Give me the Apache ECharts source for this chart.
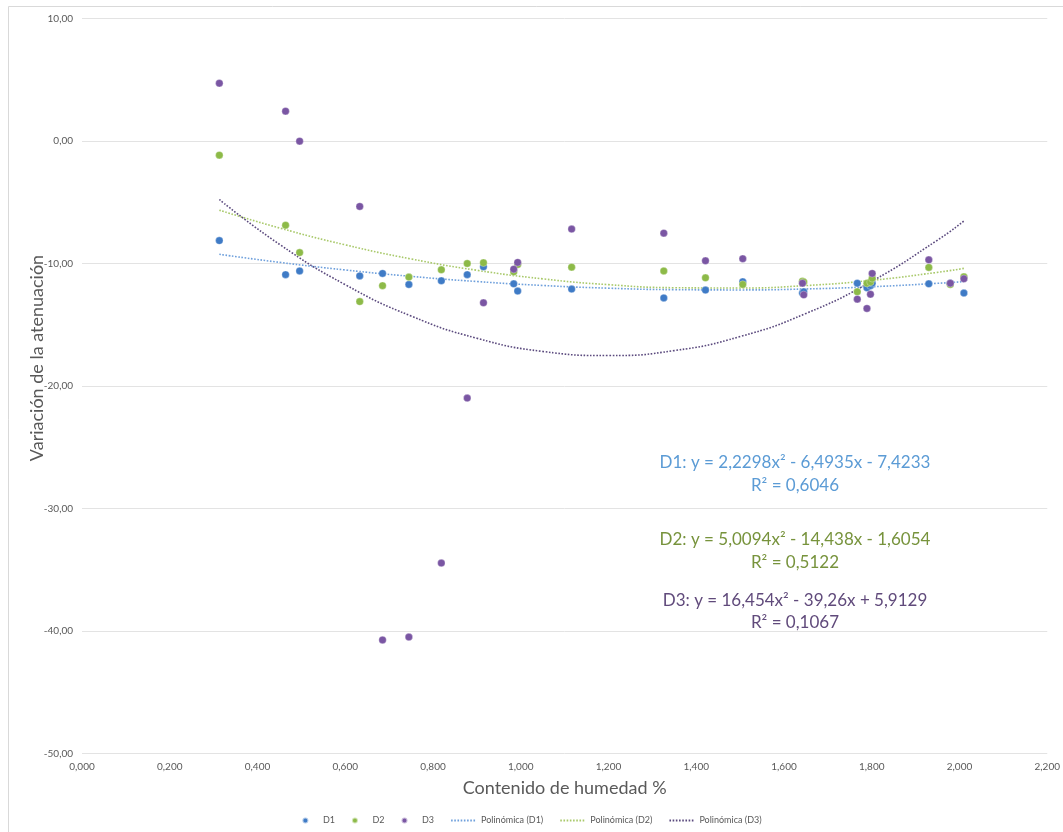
<!DOCTYPE html>
<html>
<head>
<meta charset="utf-8">
<script src="https://cdn.jsdelivr.net/npm/echarts@6/dist/echarts.min.js"></script>
<style>
html,body{margin:0;padding:0;background:#fff;}
#chart{width:1063px;height:832px;}
</style>
</head>
<body>
<div id="chart"></div>
<script>
// Contenido de humedad % (x)
var humedad = [0.313,0.464,0.496,0.633,0.685,0.745,0.819,0.878,0.915,0.984,0.993,1.116,1.326,1.421,1.506,1.642,1.645,1.767,1.789,1.797,1.801,1.930,1.979,2.010];
// Variación de la atenuación
var d1 = [-8.12,-10.90,-10.60,-11.00,-10.80,-11.70,-11.40,-10.90,-10.26,-11.65,-12.24,-12.08,-12.80,-12.16,-11.48,-12.40,-12.30,-11.60,-11.97,-11.80,-11.60,-11.65,-11.60,-12.40];
var d2 = [-1.14,-6.86,-9.10,-13.10,-11.80,-11.10,-10.50,-9.99,-9.93,-10.67,-10.07,-10.29,-10.60,-11.16,-11.70,-11.43,-11.50,-12.30,-11.60,-11.50,-11.20,-10.31,-11.70,-11.08];
var d3 = [4.73,2.45,0.00,-5.33,-40.73,-40.49,-34.45,-20.98,-13.20,-10.45,-9.90,-7.18,-7.51,-9.77,-9.60,-11.60,-12.55,-12.90,-13.66,-12.50,-10.80,-9.69,-11.60,-11.24];

// Trendline points (Polinómica)
var trendX  = [0.313,0.45,0.6,0.75,0.9,1.05,1.2,1.35,1.5,1.65,1.8,1.95,2.01];
var trendD1 = [-9.237,-9.894,-10.517,-11.039,-11.461,-11.783,-12.005,-12.126,-12.147,-12.067,-11.887,-11.607,-11.467];
var trendD2 = [-5.634,-7.088,-8.465,-9.616,-10.542,-11.242,-11.718,-11.967,-11.991,-11.790,-11.363,-10.711,-10.387];
var trendD3 = [-4.763,-8.422,-11.720,-14.277,-16.093,-17.170,-17.505,-17.101,-15.956,-14.070,-11.444,-8.078,-6.524];

var eqTexts = [
  ['D1: y = 2,2298x² - 6,4935x - 7,4233', 'R² = 0,6046'],
  ['D2: y = 5,0094x² - 14,438x - 1,6054', 'R² = 0,5122'],
  ['D3: y = 16,454x² - 39,26x + 5,9129', 'R² = 0,1067']
];

function pairs(xs, ys){ return xs.map(function(x,i){ return [x, ys[i]]; }); }

var FONT = 'Lato, "Open Sans", sans-serif';
var cMark = ['#3f7bc6', '#8dba48', '#7a56a3'];
var cTrend = ['#6fa0dc', '#a9c96b', '#5b4a7e'];
var cEq = ['#5b9bd5', '#77933c', '#604a7b'];

var chart = echarts.init(document.getElementById('chart'), null, {renderer:'canvas'});

function scatterSeries(name, ys, color){
  return {
    name: name, type: 'scatter', data: pairs(humedad, ys),
    symbol: 'circle', symbolSize: 7.5,
    itemStyle: {color: color, opacity: 1, borderColor: 'rgba(255,255,255,0.6)', borderWidth: 0.5},
    z: 3
  };
}
function trendSeries(name, ys, color){
  return {
    name: name, type: 'line', data: pairs(trendX, ys), smooth: true,
    symbol: 'none', showSymbol: false,
    lineStyle: {color: color, width: 1.6, type: [1.6, 1.6]},
    itemStyle: {color: color},
    z: 2, silent: true
  };
}

var graphics = [
  {type:'rect', shape:{x:8.5, y:6.5, width:1060, height:830}, style:{fill:'none', stroke:'#d9d9d9', lineWidth:1}, silent:true},
  {type:'text', x:37, y:358, rotation:Math.PI/2, style:{text:'Variación de la atenuación', fill:'#595959', font:'18px ' + FONT, textAlign:'center', textVerticalAlign:'middle'}}
];
var eqY = [[463,486],[540,563],[601,623]];
eqTexts.forEach(function(t, i){
  graphics.push({type:'text', x:795, y:eqY[i][0], style:{text:t[0], fill:cEq[i], font:'17px ' + FONT, textAlign:'center', textVerticalAlign:'middle'}});
  graphics.push({type:'text', x:795, y:eqY[i][1], style:{text:t[1], fill:cEq[i], font:'17px ' + FONT, textAlign:'center', textVerticalAlign:'middle'}});
});

var noSym = {opacity: 0};

chart.setOption({
  animation: false,
  backgroundColor: '#fff',
  grid: {left: 82, right: 13, top: 18.7, bottom: 78.5, containLabel: false},
  xAxis: {
    type: 'value', min: 0, max: 2.2, interval: 0.2,
    name: 'Contenido de humedad %', nameLocation: 'middle', nameGap: 26,
    nameTextStyle: {color:'#595959', fontSize:18, fontFamily: FONT},
    axisLine: {show: false}, axisTick: {show: false},
    splitLine: {show: false},
    axisLabel: {color:'#595959', fontSize:10, fontFamily: FONT, margin: 8,
      formatter: function(v){ return v.toFixed(3).replace('.', ','); }}
  },
  yAxis: {
    type: 'value', min: -50, max: 10, interval: 10,
    axisLine: {show: false}, axisTick: {show: false},
    splitLine: {show: true, lineStyle: {color:'#e3e3e3', width: 1}},
    axisLabel: {color:'#595959', fontSize:10, fontFamily: FONT, margin: 9,
      formatter: function(v){ return v.toFixed(2).replace('.', ','); }}
  },
  legend: {
    bottom: 2, left: 'center', itemGap: 16, itemWidth: 25, itemHeight: 6,
    textStyle: {color:'#595959', fontSize: 9, fontFamily: FONT},
    data: [
      {name:'D1', icon:'circle'}, {name:'D2', icon:'circle'}, {name:'D3', icon:'circle'},
      {name:'Polinómica (D1)', itemStyle: noSym}, {name:'Polinómica (D2)', itemStyle: noSym}, {name:'Polinómica (D3)', itemStyle: noSym}
    ]
  },
  graphic: graphics,
  series: [
    scatterSeries('D1', d1, cMark[0]),
    scatterSeries('D2', d2, cMark[1]),
    scatterSeries('D3', d3, cMark[2]),
    trendSeries('Polinómica (D1)', trendD1, cTrend[0]),
    trendSeries('Polinómica (D2)', trendD2, cTrend[1]),
    trendSeries('Polinómica (D3)', trendD3, cTrend[2])
  ]
});
</script>
</body>
</html>
